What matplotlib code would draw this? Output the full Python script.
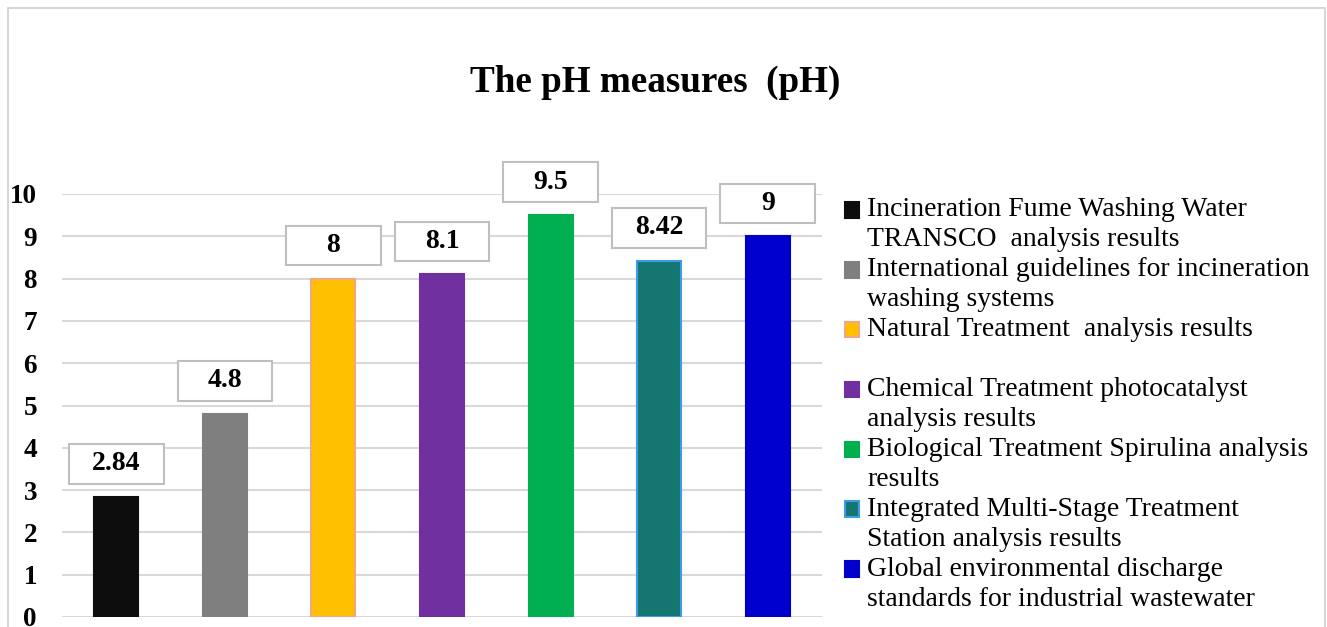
import numpy as np
import matplotlib.pyplot as plt
from matplotlib.patches import Rectangle, Patch
from matplotlib.legend_handler import HandlerPatch

plt.rcParams['font.family'] = ['Liberation Serif', 'DejaVu Serif']

labels = ["Incineration Fume Washing Water\nTRANSCO  analysis results",
          "International guidelines for incineration\nwashing systems",
          "Natural Treatment  analysis results\n ",
          "Chemical Treatment photocatalyst\nanalysis results",
          "Biological Treatment Spirulina analysis\nresults",
          "Integrated Multi-Stage Treatment\nStation analysis results",
          "Global environmental discharge\nstandards for industrial wastewater"]
values = [2.84, 4.8, 8, 8.1, 9.5, 8.42, 9]
value_text = ["2.84", "4.8", "8", "8.1", "9.5", "8.42", "9"]
colors = ["#0D0D0D", "#7F7F7F", "#FFC000", "#7030A0", "#00B050", "#157570", "#0000CC"]
edges = ["#0D0D0D", "#7F7F7F", "#F4A582", "#7030A0", "#00B050", "#3C9CE8", "#0000CC"]

fig = plt.figure(figsize=(13.27, 6.27), dpi=100)

# outer chart frame
fig.patches.append(Rectangle((8/1327, -0.05), 1317/1327, 1 - 8/627 + 0.05,
                             transform=fig.transFigure, fill=False,
                             edgecolor="#D0D0D0", lw=1.2))

ax = fig.add_axes([62/1327, 10/627, 760/1327, 423/627])
x = np.arange(len(values))
ax.bar(x, values, width=0.405, color=colors, edgecolor=edges, linewidth=1.5, zorder=3)

ax.set_xlim(-0.5, len(values) - 0.5)
ax.set_ylim(0, 10)
ax.set_yticks(range(0, 11))
ax.set_yticklabels([str(i) for i in range(0, 11)], fontsize=19.5, fontweight='bold')
ax.tick_params(axis='y', length=0, pad=18)
ax.set_xticks([])
ax.grid(axis='y', color="#D9D9D9", lw=1.5, zorder=0)
for s in ax.spines.values():
    s.set_visible(False)

# data label boxes
bw, bh, off = 0.87, 0.93, 0.78
for xi, v, t in zip(x, values, value_text):
    ax.add_patch(Rectangle((xi - bw/2, v + off - bh/2), bw, bh, facecolor='white',
                           edgecolor="#BFBFBF", lw=1.5, zorder=4, clip_on=False))
    ax.text(xi, v + off, t, ha='center', va='center', fontsize=20,
            fontweight='bold', zorder=5)

fig.text(0.494, 1 - 82/627, "The pH measures  (pH)", ha='center', va='center',
         fontsize=26.7, fontweight='bold')


# legend squares sit on the first text line
def first_line_square(legend, orig_handle, xdescent, ydescent, width, height, fontsize):
    return Rectangle((-xdescent, -ydescent + 10.4), width, height)


handles = [Patch(facecolor=c, edgecolor=e, lw=1.5) for c, e in zip(colors, edges)]
leg = fig.legend(handles, labels, loc='upper left', bbox_to_anchor=(845/1327, 1 - 197/627),
                 frameon=False, fontsize=20, handlelength=0.5, handleheight=0.5,
                 handletextpad=0.3, labelspacing=0.18, borderpad=0, borderaxespad=0,
                 handler_map={Patch: HandlerPatch(patch_func=first_line_square)})
for t in leg.get_texts():
    t.set_linespacing(1.26)

fig.savefig("out.png", dpi=100)
